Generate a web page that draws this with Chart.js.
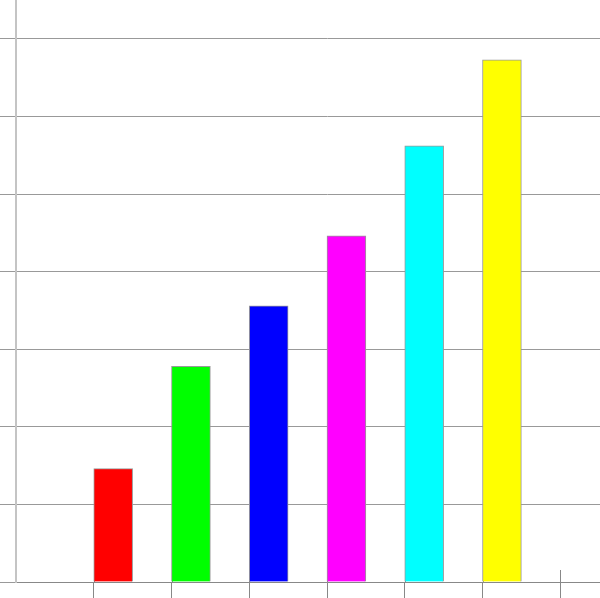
<!DOCTYPE html>
<html>
<head>
<meta charset="utf-8">
<script src="https://cdn.jsdelivr.net/npm/chart.js@4/dist/chart.umd.min.js"></script>
<style>
  html, body {
    margin: 0;
    padding: 0;
    background: #fff;
    overflow: hidden;
  }
  #wrap {
    width: 600px;
    height: 598px;
    overflow: hidden;
  }
</style>
</head>
<body>
<div id="wrap">
  <canvas id="barChart" width="638" height="598"></canvas>
</div>
<script>
// the x axis runs one half slot past the right edge, so the canvas is wider and clipped
const categories = ["", "1", "2", "3", "4", "5", "6", ""];
const values = [null, 14.6, 27.8, 35.6, 44.6, 56.2, 67.3, null];
const barColors = ["#fff", "#ff0000", "#00ff00", "#0000ff", "#ff00ff", "#00ffff", "#ffff00", "#fff"];
const yMax = 75;
const yStep = 10;

const canvas = document.getElementById("barChart");

// x tick marks also poke a little way up into the plot (under the bars)
const tickUpPlugin = {
  id: "tickUp",
  beforeDatasetsDraw(chart) {
    const xScale = chart.scales.x;
    const ctx = chart.ctx;
    const bottom = chart.chartArea.bottom;
    ctx.save();
    ctx.strokeStyle = "#888";
    ctx.lineWidth = 1;
    for (let i = 1; i < categories.length; i++) {
      const px = Math.round((xScale.getPixelForTick(i - 1) + xScale.getPixelForTick(i)) / 2) + 0.5;
      ctx.beginPath();
      ctx.moveTo(px, bottom - 12);
      ctx.lineTo(px, bottom);
      ctx.stroke();
    }
    ctx.restore();
  },
};

new Chart(canvas, {
  type: "bar",
  data: {
    labels: categories,
    datasets: [
      {
        data: values,
        backgroundColor: barColors,
        borderColor: "#999",
        borderWidth: 1,
        categoryPercentage: 1,
        barPercentage: 1,
      },
      {
        // empty partner dataset, keeps each bar in the left half of its slot
        data: categories.map(() => null),
        categoryPercentage: 1,
        barPercentage: 1,
      },
    ],
  },
  options: {
    responsive: false,
    animation: false,
    devicePixelRatio: 1,
    layout: { padding: 0 },
    plugins: {
      legend: { display: false },
      tooltip: { enabled: false },
    },
    scales: {
      x: {
        ticks: { display: false },
        grid: {
          offset: true,
          drawOnChartArea: false,
          tickLength: 16,
          color: (ctx) => (ctx.index === 0 ? "rgba(0,0,0,0)" : "#888"),
        },
        border: { color: "#888", width: 1 },
      },
      y: {
        min: 0,
        max: yMax,
        ticks: { display: false, stepSize: yStep, includeBounds: false },
        grid: {
          color: "#999",
          tickLength: 16,
        },
        border: { color: "#c4c4c4", width: 2 },
      },
    },
  },
  plugins: [tickUpPlugin],
});
</script>
</body>
</html>
